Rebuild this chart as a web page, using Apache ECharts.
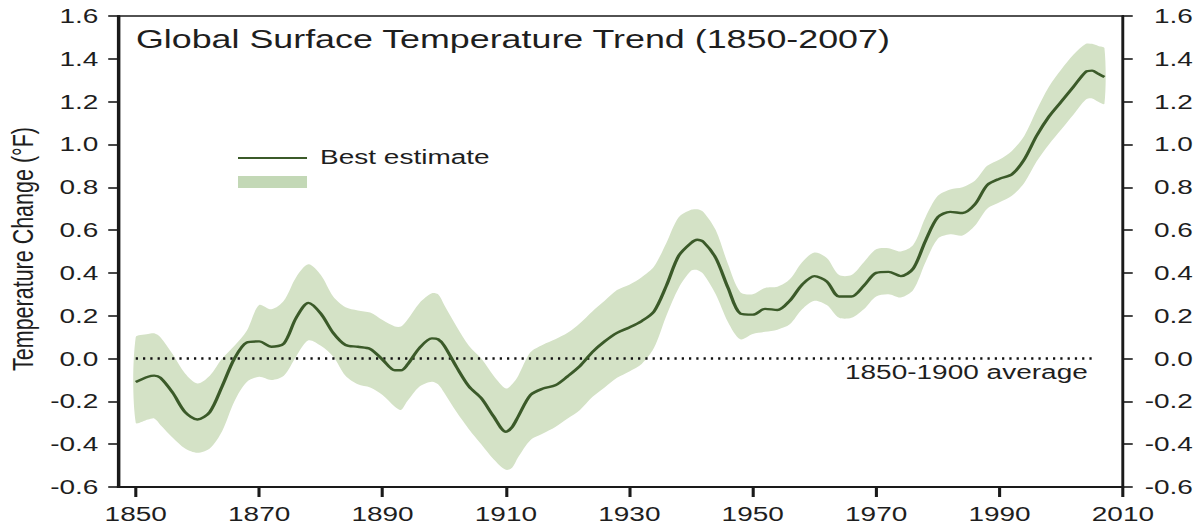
<!DOCTYPE html>
<html>
<head>
<meta charset="utf-8">
<script src="https://cdn.jsdelivr.net/npm/echarts@6/dist/echarts.min.js"></script>
<style>
html,body{margin:0;padding:0;background:#fff;overflow:hidden;width:1204px;height:528px;}
#wrap{width:1204px;height:528px;overflow:hidden;position:relative;}
#chart{width:860px;height:528px;transform:scaleX(1.4);transform-origin:0 0;position:absolute;left:0;top:0;}
</style>
</head>
<body>
<div id="wrap"><div id="chart"></div></div>
<script>
// ---- data ----
const titleText = 'Global Surface Temperature Trend (1850-2007)';
const yAxisName = 'Temperature Change (\u00B0F)';
const legendLine = 'Best estimate';
const baselineLabel = '1850-1900 average';
const xTickYears = [1850, 1870, 1890, 1910, 1930, 1950, 1970, 1990, 2010];
const baselineSpan = [1850, 2005];

const years = [1850,1852,1853,1854,1856,1858,1860,1862,1864,1866,1868,1870,1872,1874,1876,1878,1880,1882,1884,1886,1888,1890,1892,1893,1894,1896,1898,1899,1900,1902,1904,1906,1908,1910,1911,1912,1914,1916,1918,1920,1922,1924,1926,1928,1930,1932,1934,1936,1938,1940,1941,1942,1944,1946,1948,1950,1952,1954,1956,1958,1960,1962,1964,1966,1968,1970,1972,1974,1976,1978,1980,1982,1984,1986,1988,1990,1992,1994,1996,1998,2000,2002,2004,2005,2006,2007];

const bestEstimate = [-0.11,-0.085,-0.08,-0.09,-0.16,-0.25,-0.285,-0.25,-0.13,0.0,0.075,0.08,0.055,0.07,0.19,0.26,0.21,0.12,0.063,0.055,0.045,-0.005,-0.055,-0.055,-0.03,0.05,0.094,0.09,0.06,-0.04,-0.13,-0.185,-0.27,-0.342,-0.32,-0.27,-0.17,-0.14,-0.125,-0.083,-0.035,0.03,0.08,0.12,0.145,0.175,0.22,0.34,0.48,0.54,0.555,0.545,0.47,0.33,0.21,0.205,0.232,0.227,0.27,0.345,0.385,0.36,0.29,0.29,0.34,0.4,0.405,0.385,0.42,0.55,0.66,0.685,0.68,0.72,0.81,0.84,0.86,0.93,1.04,1.13,1.2,1.27,1.34,1.345,1.33,1.315];

const upperBound = [0.10,0.115,0.118,0.1,0.02,-0.07,-0.116,-0.08,0.0,0.06,0.13,0.25,0.23,0.27,0.38,0.44,0.39,0.29,0.24,0.225,0.215,0.18,0.15,0.15,0.18,0.26,0.305,0.3,0.25,0.15,0.06,0.0,-0.08,-0.14,-0.12,-0.08,0.03,0.065,0.09,0.12,0.165,0.22,0.27,0.32,0.345,0.38,0.43,0.54,0.66,0.695,0.697,0.685,0.6,0.44,0.31,0.3,0.33,0.335,0.37,0.45,0.495,0.47,0.39,0.39,0.45,0.51,0.515,0.5,0.53,0.66,0.76,0.79,0.8,0.83,0.9,0.93,0.97,1.04,1.16,1.27,1.35,1.42,1.47,1.47,1.46,1.45];

const lowerBound = [-0.30,-0.285,-0.28,-0.31,-0.37,-0.42,-0.44,-0.42,-0.34,-0.2,-0.11,-0.085,-0.1,-0.08,0.01,0.085,0.06,0.01,-0.08,-0.12,-0.135,-0.17,-0.225,-0.24,-0.2,-0.13,-0.108,-0.12,-0.16,-0.25,-0.33,-0.4,-0.47,-0.52,-0.51,-0.46,-0.38,-0.35,-0.32,-0.28,-0.24,-0.18,-0.135,-0.09,-0.06,-0.025,0.05,0.2,0.33,0.41,0.414,0.395,0.3,0.17,0.09,0.115,0.125,0.135,0.16,0.23,0.27,0.25,0.19,0.19,0.23,0.29,0.3,0.285,0.32,0.45,0.56,0.58,0.575,0.62,0.7,0.73,0.76,0.82,0.92,1.0,1.07,1.14,1.21,1.215,1.2,1.19];

// ---- styles ----
const FONT = '"Liberation Sans", Arial, Helvetica, sans-serif';
const TXT = '#1e1e1e';
const LINE_GREEN = '#3b5a29';
const BAND_GREEN = '#d4e2c6';
const LEGEND_BAND = '#c3d8b6';
const AXIS = '#1a1a1a';

const bestData = years.map((y, i) => [y, bestEstimate[i]]);
const zeroData = baselineSpan.map(y => [y, 0]);
// band table: one row per year [year, lower, upper]
const bandRows = years.map((y, i) => [y, lowerBound[i], upperBound[i]]);

function renderBand(params, api) {
  if (params.dataIndexInside !== 0) return null;
  const up = bandRows.map(r => api.coord([r[0], r[2]]));
  const lo = bandRows.map(r => api.coord([r[0], r[1]])).reverse();
  return {
    type: 'polygon',
    shape: {points: up.concat(lo), smooth: 0.3},
    style: {fill: BAND_GREEN, stroke: null},
    silent: true
  };
}

const chart = echarts.init(document.getElementById('chart'), null, {renderer: 'svg', width: 860, height: 528});

const yCommon = {
  type: 'value', min: -0.6, max: 1.6, interval: 0.2,
  axisLine: {show: true, lineStyle: {color: AXIS, width: 2}},
  axisTick: {show: true, inside: false, length: 7, lineStyle: {color: AXIS, width: 1.6}},
  splitLine: {show: false}
};

chart.setOption({
  animation: false,
  backgroundColor: '#fff',
  grid: {left: 84.3, right: 57.9, top: 16, bottom: 41, show: true, borderColor: AXIS, borderWidth: 1.6, backgroundColor: 'transparent'},
  xAxis: {
    type: 'value', min: 1847.13, max: 2010,
    axisLine: {show: true, onZero: false, lineStyle: {color: AXIS, width: 2}},
    axisTick: {show: true, length: 10, customValues: xTickYears, lineStyle: {color: AXIS, width: 2.2}},
    axisLabel: {show: true, customValues: xTickYears, margin: 17, fontSize: 20, fontFamily: FONT, color: TXT, formatter: v => String(v)},
    splitLine: {show: false}
  },
  yAxis: [
    Object.assign({}, yCommon, {
      position: 'left',
      axisLabel: {margin: 14, fontSize: 20, fontFamily: FONT, color: TXT, formatter: v => v.toFixed(1)}
    }),
    Object.assign({}, yCommon, {
      position: 'right',
      axisLabel: {margin: 50, align: 'right', fontSize: 20, fontFamily: FONT, color: TXT, formatter: v => v.toFixed(1)}
    })
  ],
  series: [
    {type: 'custom', data: bandRows, renderItem: renderBand, silent: true, clip: true,
     encode: {x: 0, y: [1, 2]}, z: 1},
    {type: 'line', data: zeroData, symbol: 'none', silent: true, z: 2,
     lineStyle: {color: '#111', width: 2.4, type: [1.6, 3.6]}},
    {type: 'line', data: bestData, smooth: 0.3, symbol: 'none', silent: true, z: 3,
     lineStyle: {color: LINE_GREEN, width: 2.4}}
  ],
  graphic: [
    {type: 'text', x: 97.1, y: 39.5, style: {text: titleText, fontSize: 25.6, fontFamily: FONT, fill: TXT, align: 'left', verticalAlign: 'middle'}},
    {type: 'text', x: 16.4, y: 249, rotation: Math.PI / 2, style: {text: yAxisName, fontSize: 21.5, fontFamily: FONT, fill: TXT, align: 'center', verticalAlign: 'middle'}},
    {type: 'line', shape: {x1: 170, y1: 158, x2: 219.3, y2: 158}, style: {stroke: LINE_GREEN, lineWidth: 2}},
    {type: 'rect', shape: {x: 170, y: 176, width: 49.3, height: 12}, style: {fill: LEGEND_BAND}},
    {type: 'text', x: 228.6, y: 157.5, style: {text: legendLine, fontSize: 20, fontFamily: FONT, fill: TXT, align: 'left', verticalAlign: 'middle'}},
    {type: 'text', x: 777, y: 372.5, style: {text: baselineLabel, fontSize: 20, fontFamily: FONT, fill: TXT, align: 'right', verticalAlign: 'middle'}}
  ]
});
</script>
</body>
</html>
